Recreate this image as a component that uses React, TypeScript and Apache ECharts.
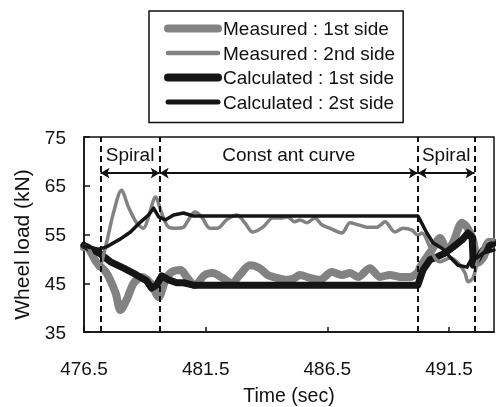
import React, { useEffect, useRef } from 'react';
import * as echarts from 'echarts';

const seriesNames = [
  'Measured : 1st side',
  'Measured : 2nd side',
  'Calculated : 1st side',
  'Calculated : 2st side',
];

const measured1st: [number, number][] = [
  [476.5, 52.4], [476.6, 52.4], [477.0, 49.4], [477.43, 47.1], [477.8, 43.0], [478.0, 39.5],
  [478.25, 41.6], [478.54, 45.0], [478.87, 46.3], [479.24, 45.0], [479.57, 42.2], [479.85, 45.7],
  [480.1, 47.3], [480.47, 47.7], [480.72, 46.3], [481.05, 44.6], [481.46, 46.7], [481.79, 47.1],
  [482.2, 46.1], [482.57, 45.0], [482.9, 46.7], [483.32, 48.7], [483.72, 48.1], [484.05, 46.7],
  [484.42, 46.1], [484.83, 45.7], [485.16, 46.1], [485.37, 46.7], [485.78, 46.1], [486.19, 45.7],
  [486.69, 47.3], [487.1, 46.7], [487.43, 47.1], [487.76, 46.3], [488.25, 48.1], [488.66, 46.3],
  [489.07, 46.7], [489.48, 46.3], [489.9, 46.3], [490.22, 47.3], [490.31, 48.3], [490.59, 50.4],
  [490.84, 52.2], [491.13, 54.3], [491.42, 51.8], [491.66, 53.3], [492.04, 57.4], [492.24, 56.5],
  [492.49, 53.9], [492.69, 49.2], [492.9, 50.2], [493.1, 52.4], [493.35, 53.3],
];

const measured2nd: [number, number][] = [
  [476.5, 52.6], [476.69, 52.2], [477.1, 48.1], [477.38, 52.4], [477.71, 59.4], [478.04, 64.1],
  [478.33, 60.6], [478.66, 57.4], [478.95, 56.3], [479.15, 58.6], [479.44, 62.7], [479.69, 59.4],
  [479.98, 56.5], [480.31, 56.3], [480.59, 56.5], [480.72, 57.4], [481.05, 59.6], [481.34, 58.6],
  [481.67, 56.3], [481.99, 56.3], [482.36, 58.0], [482.78, 59.0], [483.11, 57.4], [483.43, 55.5],
  [483.85, 56.5], [484.26, 58.4], [484.63, 58.4], [484.87, 58.6], [485.16, 57.6], [485.37, 58.0],
  [485.66, 57.4], [485.99, 58.4], [486.27, 57.0], [486.6, 56.3], [487.1, 55.3], [487.43, 57.4],
  [487.76, 57.0], [488.13, 56.5], [488.54, 56.5], [488.87, 57.6], [489.28, 55.5], [489.61, 56.3],
  [489.98, 55.9], [490.22, 54.9], [490.39, 55.3], [490.72, 52.4], [490.92, 50.2], [491.13, 49.4],
  [491.54, 50.2], [491.87, 49.2], [492.16, 47.1], [492.28, 45.3], [492.49, 46.1], [492.69, 49.8],
  [492.9, 52.4], [493.1, 53.9], [493.35, 53.9],
];

const calculated1st: [number, number][] = [
  [476.5, 52.8], [477.18, 51.0], [477.59, 49.4], [478.13, 48.1], [478.66, 46.7], [479.07, 45.5],
  [479.28, 44.0], [479.48, 44.6], [479.69, 46.5], [479.98, 45.7], [480.31, 45.1], [480.59, 45.1],
  [481.0, 44.6], [490.22, 44.6], [490.43, 47.7], [490.72, 49.8], [491.01, 50.4], [491.34, 51.2],
  [491.66, 52.4], [492.04, 53.9], [492.28, 55.3], [492.45, 54.5], [492.5, 48.7], [492.65, 49.8],
  [492.9, 51.8], [493.35, 53.3],
];

const calculated2nd: [number, number][] = [
  [476.5, 52.6], [477.1, 52.0], [477.4, 52.4], [478.0, 54.1], [478.41, 55.5], [478.83, 57.6],
  [479.15, 59.0], [479.36, 60.4], [479.57, 58.6], [479.85, 58.0], [480.18, 59.0], [480.59, 59.4],
  [481.0, 58.8], [490.22, 58.8], [490.31, 58.0], [490.59, 55.3], [490.84, 53.3], [491.21, 52.2],
  [491.54, 50.4], [491.87, 48.7], [492.24, 48.3], [492.45, 50.2], [492.65, 50.2], [492.9, 51.2],
  [493.35, 51.8],
];

const dividerTimes = [477.18, 479.61, 490.22, 492.55];
const sectionLabels = ['Spiral', 'Const ant curve', 'Spiral'];
const arrowLevel = 67.6;

const xMin = 476.5;
const xMax = 493.35;
const xStep = 5;
const yMin = 35;
const yMax = 75;
const yStep = 10;

const FONT = "'Liberation Sans', Arial, sans-serif";
const GRAY = '#828282';
const BLACK = '#151515';

export default function App() {
  const ref = useRef<HTMLDivElement>(null);

  useEffect(() => {
    if (!ref.current) return;
    const chart = echarts.init(ref.current, undefined, { renderer: 'svg' });

    const dividerLines = dividerTimes.map((t) => ({ xAxis: t }));

    const arrowLines = sectionLabels.map((name, i) => [
      { coord: [dividerTimes[i], arrowLevel], name },
      { coord: [dividerTimes[i + 1], arrowLevel] },
    ]);

    const legendWidths = [8, 4.5, 8, 5];
    const legendColors = [GRAY, GRAY, BLACK, BLACK];

    chart.setOption({
      animation: false,
      textStyle: { fontFamily: FONT },
      legend: {
        data: seriesNames.map((name, i) => ({
          name,
          itemStyle: { opacity: 0 },
          lineStyle: { width: legendWidths[i], color: legendColors[i], cap: 'round' },
        })),
        orient: 'vertical',
        left: 149,
        top: 11,
        padding: [8, 8, 11, 15],
        itemGap: 5.5,
        itemWidth: 50,
        itemHeight: 14,
        borderColor: '#111',
        borderWidth: 1.5,
        selectedMode: false,
        itemStyle: { opacity: 0 },
        textStyle: { fontSize: 19, color: '#111', fontFamily: FONT },
      },
      grid: {
        left: 84,
        right: 2,
        top: 137,
        bottom: 75,
        show: true,
        borderColor: '#111',
        borderWidth: 1.5,
      },
      xAxis: {
        type: 'value',
        min: xMin,
        max: xMax,
        interval: xStep,
        name: 'Time (sec)',
        nameLocation: 'middle',
        nameGap: 53,
        nameTextStyle: { fontSize: 19.5, color: '#111', fontFamily: FONT },
        axisLine: { show: true, lineStyle: { color: '#111', width: 1.5 } },
        axisTick: { show: true, inside: true, length: 5, lineStyle: { color: '#111', width: 1.5 } },
        axisLabel: {
          fontSize: 19,
          color: '#111',
          margin: 27,
          showMaxLabel: false,
          formatter: (v: number) => v.toFixed(1),
        },
        splitLine: { show: false },
      },
      yAxis: {
        type: 'value',
        min: yMin,
        max: yMax,
        interval: yStep,
        name: 'Wheel load (kN)',
        nameLocation: 'middle',
        nameGap: 52,
        nameRotate: 90,
        nameTextStyle: { fontSize: 21, color: '#111', fontFamily: FONT, padding: [0, 20, 0, 0] },
        axisLine: { show: true, lineStyle: { color: '#111', width: 1.5 } },
        axisTick: { show: true, inside: true, length: 6, lineStyle: { color: '#111', width: 1.5 } },
        axisLabel: { fontSize: 19, color: '#111', margin: 18 },
        splitLine: { show: false },
      },
      series: [
        {
          name: seriesNames[0],
          type: 'line',
          data: measured1st,
          symbol: 'none',
          smooth: 0.3,
          lineStyle: { color: GRAY, width: 8, cap: 'round', join: 'round' },
          itemStyle: { color: GRAY },
        },
        {
          name: seriesNames[2],
          type: 'line',
          data: calculated1st,
          symbol: 'none',
          lineStyle: { color: BLACK, width: 7, cap: 'round', join: 'round' },
          itemStyle: { color: BLACK },
          markLine: {
            silent: true,
            symbol: ['none', 'none'],
            lineStyle: { type: [6, 4], width: 2, color: '#111' },
            label: { show: false },
            emphasis: { disabled: true },
            data: dividerLines,
          },
        },
        {
          name: seriesNames[1],
          type: 'line',
          data: measured2nd,
          symbol: 'none',
          smooth: 0.3,
          lineStyle: { color: GRAY, width: 3.5, cap: 'round', join: 'round' },
          itemStyle: { color: GRAY },
        },
        {
          name: seriesNames[3],
          type: 'line',
          data: calculated2nd,
          symbol: 'none',
          lineStyle: { color: BLACK, width: 3.5, cap: 'round', join: 'round' },
          itemStyle: { color: BLACK },
          markLine: {
            silent: true,
            symbol: ['arrow', 'arrow'],
            symbolSize: [8, 9],
            lineStyle: { type: 'solid', width: 2, color: '#111' },
            label: {
              show: true,
              position: 'insideMiddleTop',
              distance: 9,
              formatter: '{b}',
              fontSize: 19,
              color: '#111',
              fontFamily: FONT,
            },
            emphasis: { disabled: true },
            data: arrowLines,
          },
        },
      ],
    });

    return () => chart.dispose();
  }, []);

  return (
    <div
      ref={ref}
      style={{ position: 'fixed', left: 0, top: 0, width: 496, height: 407 }}
    />
  );
}
